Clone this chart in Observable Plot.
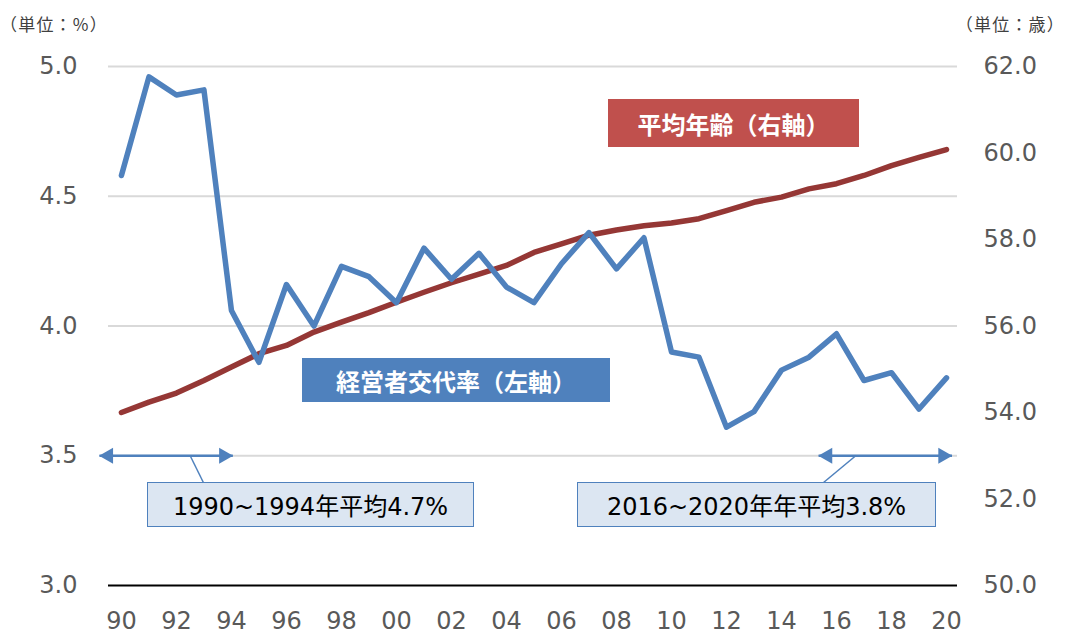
<!DOCTYPE html>
<html><head><meta charset="utf-8">
<script src="https://cdn.jsdelivr.net/npm/d3@7"></script>
<script src="https://cdn.jsdelivr.net/npm/@observablehq/plot@0.6"></script>
<style>
body{margin:0;background:#fff;}
#wrap{position:relative;width:1065px;height:637px;overflow:hidden;font-family:"DejaVu Sans","Noto Sans CJK JP",sans-serif;}
#wrap svg{position:absolute;left:0;top:0;}
.unit{position:absolute;top:15px;font-size:17px;line-height:17px;color:#404040;font-family:"Noto Sans CJK JP",sans-serif;letter-spacing:1.2px;white-space:nowrap;}
.tag{position:absolute;color:#fff;font-weight:bold;font-family:"Noto Sans CJK JP",sans-serif;font-size:24px;display:flex;align-items:center;justify-content:center;white-space:nowrap;}
.note{position:absolute;background:#dce6f2;border:1.5px solid #4f81bd;box-sizing:border-box;display:flex;align-items:center;justify-content:center;font-size:24px;color:#000;white-space:nowrap;font-family:"DejaVu Sans","Noto Sans CJK JP",sans-serif;}
</style></head>
<body><div id="wrap"></div>
<script>
// ---- data ----
const years = d3.range(1990, 2021);
const turnoverRate = [4.58,4.96,4.89,4.91,4.06,3.86,4.16,4.00,4.23,4.19,4.09,4.30,4.18,4.28,4.15,4.09,4.24,4.36,4.22,4.34,3.90,3.88,3.61,3.67,3.83,3.88,3.97,3.79,3.82,3.68,3.80];
const averageAge = [54.0,54.24,54.45,54.74,55.05,55.36,55.55,55.86,56.09,56.31,56.55,56.78,57.0,57.2,57.4,57.7,57.9,58.1,58.22,58.32,58.38,58.48,58.67,58.86,58.98,59.17,59.29,59.48,59.71,59.90,60.08];
const leftTicks = [3.0, 3.5, 4.0, 4.5, 5.0];
const rightTicks = [50, 52, 54, 56, 58, 60, 62];
const xTicks = d3.range(1990, 2021, 2);
const gridValues = [3.5, 4.0, 4.5, 5.0];
// averaging periods (annotation arrows)
const periodStart = [1989.2, 2015.35];
const periodEnd = [1994.05, 2020.2];
const connectorTop = [1992.5, 2016.7];
const connectorBottom = [1992.98, 2015.53];
const labelRate = "経営者交代率（左軸）";
const labelAge = "平均年齢（右軸）";
const noteTexts = ["1990~1994年平均4.7%", "2016~2020年年平均3.8%"];

// right axis (age 50–62) mapped onto left domain (3–5)
const conv = v => 3 + (v - 50) / 6;
const data = years.map((y, i) => ({year: y, rate: turnoverRate[i], age: averageAge[i]}));
const spans = periodStart.map((s, i) => ({x1: s, x2: periodEnd[i], c1: connectorTop[i], c2: connectorBottom[i]}));

const arrowY = 3.5, connY = 3.397;
const blue = "#4f81bd", red = "#953735";

const chart = Plot.plot({
  width: 1065, height: 637,
  marginLeft: 108, marginRight: 108, marginTop: 66, marginBottom: 52,
  x: {domain: [1989.53, 2020.4]},
  y: {domain: [3, 5]},
  style: {fontFamily: "DejaVu Sans", fontSize: "24px", color: "#595959", background: "transparent"},
  marks: [
    Plot.ruleY(gridValues, {stroke: "#d9d9d9", strokeWidth: 2}),
    Plot.ruleY([3], {stroke: "#000", strokeWidth: 2}),
    Plot.axisY(leftTicks, {anchor: "left", tickSize: 0, tickPadding: 31, tickFormat: d => d.toFixed(1), label: null}),
    Plot.axisY(rightTicks.map(conv), {anchor: "right", tickSize: 0, tickPadding: 26, tickFormat: d => (50 + (d - 3) * 6).toFixed(1), label: null}),
    Plot.axisX(xTicks, {anchor: "bottom", tickSize: 0, tickPadding: 26, tickFormat: d => String(d % 100).padStart(2, "0"), label: null}),
    // annotation arrows
    Plot.link(spans, {x1: "x1", x2: "x2", y1: () => arrowY, y2: () => arrowY, stroke: blue, strokeWidth: 2.5}),
    Plot.link(spans, {x1: "c1", x2: "c2", y1: () => arrowY, y2: () => connY, stroke: blue, strokeWidth: 1.5}),
    Plot.dot(spans, {x: "x1", y: () => arrowY, symbol: "triangle", r: 6, rotate: -90, dx: 9, fill: blue, stroke: "none"}),
    Plot.dot(spans, {x: "x2", y: () => arrowY, symbol: "triangle", r: 6, rotate: 90, dx: -9, fill: blue, stroke: "none"}),
    // series
    Plot.line(data, {x: "year", y: d => conv(d.age), stroke: red, strokeWidth: 5.5}),
    Plot.line(data, {x: "year", y: "rate", stroke: blue, strokeWidth: 5.5})
  ]
});

const wrap = document.getElementById("wrap");
wrap.appendChild(chart);

function addDiv(cls, text, css) {
  const d = document.createElement("div");
  d.className = cls; d.textContent = text;
  Object.assign(d.style, css);
  wrap.appendChild(d);
}
addDiv("unit", "（単位：%）", {left: "0px"});
addDiv("unit", "（単位：歳）", {right: "0px"});
addDiv("tag", labelAge, {left: "608px", top: "99px", width: "251px", height: "48px", background: "#c0504d"});
addDiv("tag", labelRate, {left: "302px", top: "358px", width: "308px", height: "44px", background: blue});
addDiv("note", noteTexts[0], {left: "147px", top: "482px", width: "327px", height: "45px"});
addDiv("note", noteTexts[1], {left: "577px", top: "482px", width: "359px", height: "45px"});
</script>
</body></html>
